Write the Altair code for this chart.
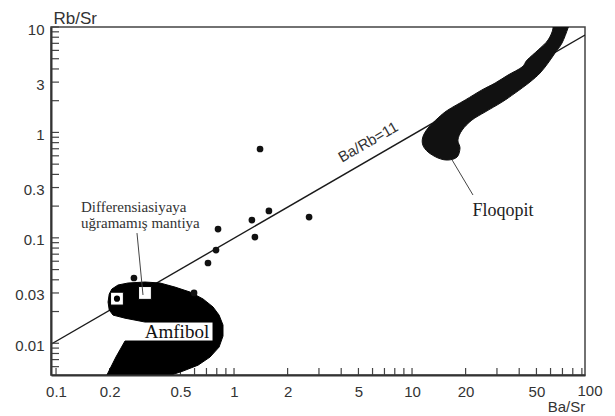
import altair as alt
import pandas as pd

# ---- axes ----
x_domain = [0.0937, 93.7]
y_domain = [0.005, 10]
x_label_values = [0.1, 0.2, 0.5, 1, 2, 5, 10, 20, 50]
x_extra_label = [100]
y_label_values = [0.01, 0.03, 0.1, 0.3, 1, 3, 10]
x_tick_values = [0.1, 0.2, 0.3, 0.4, 0.5, 0.6, 0.7, 0.8, 0.9,
                 1, 2, 3, 4, 5, 6, 7, 8, 9,
                 10, 20, 30, 40, 50, 60, 70, 80, 90]
y_tick_values = [0.006, 0.007, 0.008, 0.009,
                 0.01, 0.02, 0.03, 0.04, 0.05, 0.06, 0.07, 0.08, 0.09,
                 0.1, 0.2, 0.3, 0.4, 0.5, 0.6, 0.7, 0.8, 0.9,
                 1, 2, 3, 4, 5, 6, 7, 8, 9, 10]

# ---- samples ----
sample_ba_sr = [1.40, 1.57, 1.26, 2.64, 0.813, 1.31, 0.792, 0.714, 0.274, 0.596]
sample_rb_sr = [0.696, 0.180, 0.1475, 0.1575, 0.121, 0.1018, 0.0766, 0.0577, 0.0416, 0.0300]

# ---- Ba/Rb = 11 reference line ----
line_ba_sr = [0.0937, 93.7]
line_rb_sr = [0.0098, 8.4]

# ---- Amfibol field outline ----
amf_ba_sr = [0.206, 0.223, 0.254, 0.316, 0.384, 0.466, 0.566, 0.670, 0.762, 0.824,
             0.867, 0.867, 0.824, 0.733, 0.628, 0.517, 0.426, 0.384, 0.186, 0.193,
             0.217, 0.244, 0.762, 0.762, 0.316, 0.244, 0.209, 0.199, 0.196, 0.199]
amf_rb_sr = [0.0327, 0.0357, 0.0373, 0.0381, 0.0373, 0.0341, 0.0306, 0.0263, 0.0221, 0.0185,
             0.0149, 0.0117, 0.0092, 0.0074, 0.0062, 0.00545, 0.00488, 0.00448, 0.00448, 0.00499,
             0.0074, 0.0105, 0.0105, 0.0159, 0.0159, 0.0173, 0.0185, 0.0207, 0.0246, 0.0293]

# ---- Floqopit field outline ----
flo_ba_sr = [60.4, 62.0, 58.1, 51.1, 44.3, 41.5, 34.6, 29.3, 24.7, 19.9, 15.9, 14.0, 12.3,
             11.5, 11.5, 12.3, 14.0, 15.9, 17.9, 18.6, 18.1, 19.1, 21.7, 25.7, 32.0, 37.9,
             46.0, 52.4, 58.1, 63.6, 69.6, 75.2, 78.2]
flo_rb_sr = [12.2, 9.78, 7.53, 6.05, 4.86, 4.17, 3.50, 2.94, 2.53, 2.03, 1.63, 1.37, 1.10,
             0.904, 0.759, 0.652, 0.572, 0.547, 0.584, 0.711, 0.847, 1.05, 1.31, 1.56, 1.94, 2.36,
             3.01, 3.66, 4.55, 5.67, 7.05, 9.78, 12.2]

# ---- undifferentiated mantle ----
mantle_ba_sr = [0.22, 0.316]
mantle_rb_sr = [0.0265, 0.030]
mantle_dot_ba_sr = [0.22]
mantle_dot_rb_sr = [0.0265]

# ---- leader lines ----
lead_mantle_ba_sr = [0.285, 0.308]
lead_mantle_rb_sr = [0.111, 0.0287]
lead_flo_ba_sr = [16.8, 22.0]
lead_flo_rb_sr = [0.547, 0.255]

# ---- labels ----
line_label = ["Ba/Rb=11"]
line_label_pos = [5.66, 0.811]
mantle_label = ["Differensiasiyaya", "uğramamış mantiya"]
mantle_label_ba_sr = [0.1381, 0.1381]
mantle_label_rb_sr = [0.196, 0.1381]
amf_label = ["Amfibol"]
amf_label_pos = [0.478, 0.01277]
flo_label = ["Floqopit"]
flo_label_pos = [32.45, 0.1796]

W, H = 534, 348

xs = alt.Scale(type="log", domain=x_domain, nice=False)
ys = alt.Scale(type="log", domain=y_domain, nice=False)

label_x_axis = alt.Axis(values=x_label_values, format="~g", tickSize=0, labelPadding=9,
                        grid=False, title="Ba/Sr", titleX=515, titleY=31, titleAlign="center",
                        titleBaseline="middle", zindex=1)
label_y_axis = alt.Axis(values=y_label_values, format="~g", tickSize=0, labelPadding=7,
                        labelOffset=2, grid=False, title="Rb/Sr", titleAngle=0, titleX=2,
                        titleY=-9, titleAlign="left", titleBaseline="middle", titleFontSize=17,
                        zindex=1)


def X(field="x"):
    return alt.X(f"{field}:Q", scale=xs, axis=label_x_axis)


def Y(field="y"):
    return alt.Y(f"{field}:Q", scale=ys, axis=label_y_axis)


def poly_df(xv, yv):
    return pd.DataFrame({"x": xv, "y": yv, "i": list(range(len(xv)))})


ref_line = alt.Chart(pd.DataFrame({"x": line_ba_sr, "y": line_rb_sr})).mark_line(
    color="#1a1a1a", strokeWidth=1.4, clip=True
).encode(x=X(), y=Y())

# inward tick marks
x_ticks = alt.Chart(pd.DataFrame({"x": x_tick_values})).mark_rule(
    color="#444444", strokeWidth=1.2
).encode(x=X(), y=alt.value(H), y2=alt.value(H - 7))
y_ticks = alt.Chart(pd.DataFrame({"y": y_tick_values})).mark_rule(
    color="#444444", strokeWidth=1.2
).encode(y=Y(), x=alt.value(0), x2=alt.value(8))

amf = alt.Chart(poly_df(amf_ba_sr, amf_rb_sr)).mark_line(
    interpolate="linear-closed", fill="#000000", stroke="#000000", strokeWidth=1, clip=True
).encode(x=X(), y=Y(), order=alt.Order("i:Q"))

flo = alt.Chart(poly_df(flo_ba_sr, flo_rb_sr)).mark_line(
    interpolate="cardinal-closed", fill="#111111", stroke="#111111", strokeWidth=1, clip=True
).encode(x=X(), y=Y(), order=alt.Order("i:Q"))

samples = alt.Chart(pd.DataFrame({"x": sample_ba_sr, "y": sample_rb_sr})).mark_circle(
    size=45, color="#111111", opacity=1
).encode(x=X(), y=Y())

squares = alt.Chart(pd.DataFrame({"x": mantle_ba_sr, "y": mantle_rb_sr})).mark_square(
    size=165, fill="white", stroke="#000000", strokeWidth=1, opacity=1
).encode(x=X(), y=Y())

sq_dot = alt.Chart(pd.DataFrame({"x": mantle_dot_ba_sr, "y": mantle_dot_rb_sr})).mark_circle(
    size=38, color="#000000", opacity=1
).encode(x=X(), y=Y())

lead1 = alt.Chart(pd.DataFrame({"x": lead_mantle_ba_sr, "y": lead_mantle_rb_sr})).mark_line(
    color="#444444", strokeWidth=1
).encode(x=X(), y=Y())
lead2 = alt.Chart(pd.DataFrame({"x": lead_flo_ba_sr, "y": lead_flo_rb_sr})).mark_line(
    color="#444444", strokeWidth=1
).encode(x=X(), y=Y())

t_line = alt.Chart(pd.DataFrame({"x": [line_label_pos[0]], "y": [line_label_pos[1]], "t": line_label})).mark_text(
    angle=330, font="Liberation Sans", fontSize=15, color="#333333", align="center", baseline="middle"
).encode(x=X(), y=Y(), text="t:N")

t_mantle = alt.Chart(pd.DataFrame({"x": mantle_label_ba_sr, "y": mantle_label_rb_sr, "t": mantle_label})).mark_text(
    font="Liberation Serif", fontSize=15, color="#333333", align="left", baseline="middle"
).encode(x=X(), y=Y(), text="t:N")

t_amf = alt.Chart(pd.DataFrame({"x": [amf_label_pos[0]], "y": [amf_label_pos[1]], "t": amf_label})).mark_text(
    font="Liberation Serif", fontSize=19, color="#111111", align="center", baseline="middle"
).encode(x=X(), y=Y(), text="t:N")

t_flo = alt.Chart(pd.DataFrame({"x": [flo_label_pos[0]], "y": [flo_label_pos[1]], "t": flo_label})).mark_text(
    font="Liberation Serif", fontSize=18, color="#222222", align="center", baseline="middle"
).encode(x=X(), y=Y(), text="t:N")

t_100 = alt.Chart(pd.DataFrame({"x": x_extra_label, "t": ["100"]})).mark_text(
    font="Liberation Sans", fontSize=15, color="#333333", align="center", baseline="top"
).encode(x=X(), y=alt.value(H + 9), text="t:N")

chart = alt.layer(
    ref_line, x_ticks, y_ticks, amf, flo, samples, squares, sq_dot, lead1, lead2,
    t_line, t_mantle, t_amf, t_flo, t_100
).properties(
    width=W, height=H,
    autosize=alt.AutoSizeParams(type="none"),
    padding={"left": 51, "top": 27, "right": 30, "bottom": 41},
).configure_view(
    stroke="#444444", strokeWidth=1.5
).configure_axis(
    domainColor="#333333", domainWidth=2, tickColor="#444444", tickWidth=1.2,
    labelFont="Liberation Sans", labelFontSize=15, labelColor="#333333",
    titleFont="Liberation Sans", titleFontSize=15, titleFontWeight="normal", titleColor="#333333"
)

chart.save("out.html", embed_options={"renderer": "svg", "actions": False})
